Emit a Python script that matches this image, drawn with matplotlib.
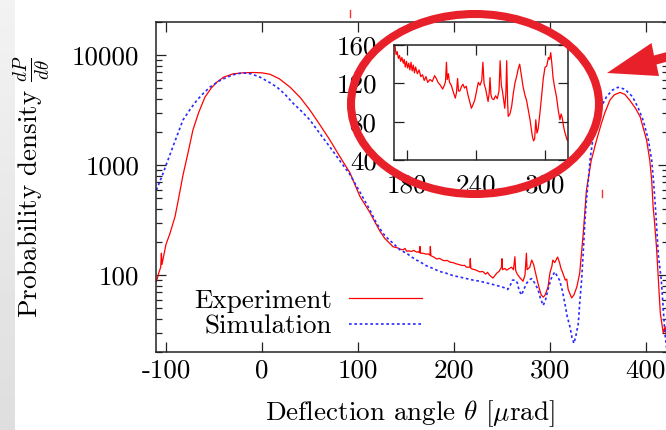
import matplotlib
matplotlib.use('Agg')
import matplotlib.pyplot as plt
import matplotlib.patches as mpatches
import matplotlib.transforms as mtransforms
from matplotlib.lines import Line2D
from matplotlib.ticker import FixedLocator, NullFormatter
import numpy as np

# main curve, experiment (theta in urad, dP/dtheta)
exp_x = [-110, -107.5, -105.5, -104.8, -104.2, -100, -95.8, -90.6, -87.2, -82.3, -77, -71.9, -66,
         -59.4, -53, -46.9, -40, -30.2, -20, -9.4, 0, 8.3, 18, 29.2, 40, 50, 60, 70.8, 81, 91.7,
         102, 112.5, 118, 123, 128, 133, 136.5, 140, 142, 144, 147, 149, 150.7, 153, 156, 158,
         161, 163, 164, 164.6, 165.2, 168, 171, 173, 175, 175.4, 176, 179, 182, 185, 188, 190,
         193, 196, 199, 202, 206, 209, 211, 213, 216.5, 217, 217.6, 220, 222, 225, 227, 230, 233,
         235, 237, 240.6, 243, 245, 247, 249.5, 250, 250.6, 253, 255, 257, 260, 262, 263.5, 264.3,
         266, 269, 272, 274, 275.5, 276.2, 279, 281, 283, 286, 289, 291, 293, 295, 298, 300, 302,
         303, 305, 308, 310, 311.5, 313.5, 316, 317.5, 319, 322.6, 325, 328, 331,
         334.7, 338, 343, 348.6, 353, 357, 362.5, 367, 373, 378, 383, 389, 394, 400.7, 404, 406,
         407.5, 409, 411, 413, 415, 418, 420, 422]
exp_y = [87, 105, 118, 158, 125, 190, 240, 340, 480, 810, 1300, 2090, 3000,
         4150, 5000, 5690, 6300, 6750, 6900, 6950, 6900, 6700, 6100, 5120, 4100, 3160, 2350, 1690, 1200, 850,
         520, 370, 300, 250, 215, 195, 181, 178, 176, 172, 170, 175, 165, 166, 164, 168,
         162, 163, 160, 182, 158, 158, 155, 156, 152, 182, 150, 146, 140, 142, 137, 135,
         136, 131, 130, 127, 124, 122, 123, 118, 118, 141, 115, 113, 112, 109, 107, 108, 102,
         106, 100, 94, 100, 105, 108, 118, 141, 112, 115, 111, 114, 118, 112, 147, 110,
         102, 94, 88, 100, 158, 112, 118, 137, 125, 96, 75, 66, 63, 66, 78, 105, 120,
         137, 130, 146, 130, 115, 104, 90, 92, 74, 62, 66, 78, 104,
         239, 590, 1100, 1690, 2300, 2960, 3900, 4350, 4580, 4400, 3900, 3300, 2750, 1690, 1110, 730,
         420, 300, 180, 90, 45, 30, 34, 25]

# main curve, simulation
sim_x = [-110, -104, -95.8, -89, -82.3, -75, -67.7, -61, -54.2, -45, -36.5, -28, -19.8, -11, -2, 7,
         15.6, 24, 32.3, 41, 50, 60, 70.8, 81, 91.7, 102, 112.5, 119, 126, 131, 136.5, 144, 150.7,
         156, 161, 164.6, 171, 178, 185, 192, 199, 206, 213, 220, 227, 234, 241, 248, 252, 256,
         259, 261, 264, 266, 268, 270.5, 273, 276, 279, 281, 284, 287.6, 290, 293, 295.5, 298,
         301, 305, 307, 310, 313, 315.6, 318, 320.8, 323, 325, 327, 329.5, 331, 333, 335, 336.5,
         338, 340, 341.7, 345, 350, 355, 359, 365, 371, 378, 386, 392, 397, 402.6, 406, 408, 410,
         413, 416, 418, 419.7, 421.5, 423]
sim_y = [593, 800, 1250, 1800, 2570, 3200, 3900, 4500, 5120, 5800, 6300, 6700, 6900, 6750, 6300, 5700,
         5120, 4400, 3660, 3100, 2570, 1950, 1460, 1100, 820, 570, 390, 300, 240, 215, 195, 169, 158,
         146, 137, 132, 122, 115, 108, 104, 99, 96, 93, 90, 88, 85, 82, 79, 77, 74,
         82, 90, 90, 85, 72, 66, 75, 85, 91, 93, 85, 74, 62, 53, 60, 74,
         92, 107, 100, 90, 72, 55, 42, 34, 27, 24, 28, 36, 55, 90, 180, 316,
         480, 730, 1100, 1800, 2800, 3600, 4190, 4800, 5100, 4900, 4190, 3300, 2570, 1690, 1110, 700, 400,
         150, 90, 50, 30, 22, 20]

# inset, experiment zoomed (linear scale)
inset_x = [169.6, 170.5, 171.5, 172.5, 173.5, 174.5, 175.5, 176.8, 177.5, 178.5, 179.5, 180.5, 181.5,
           182.5, 183.5, 184.5, 185.5, 186.5, 187.5, 189, 190.5, 192, 193.5, 195, 196.5, 198, 200,
           202, 204, 205.5, 207, 209, 211, 212.5, 213.5, 214.3, 215, 216, 217, 218.5, 220, 222,
           223, 224, 224.8, 226, 227.5, 228.7, 230, 231.5, 233, 234.5, 236, 237.5, 239, 240.5, 242,
           243.5, 245, 246, 247, 248.4, 250.5, 251.5, 252.2, 253, 254, 255.5, 257, 258.5, 260, 261,
           262, 263, 264, 265, 266, 266.7, 267.5, 268, 269.5, 271, 272.5, 274, 275.5, 276.7, 278,
           279.5, 281, 282.5, 284, 285.5, 287, 288, 289, 290, 291, 292, 293, 294, 295.5, 297,
           298.5, 300, 301.5, 303, 304, 305, 306, 307, 308.5, 310, 311.5, 313, 314, 315, 316, 317,
           318, 319, 320]
inset_y = [159, 150, 153, 146, 149, 143, 147, 141, 145, 137, 143, 136, 141,
           134, 142, 133, 139, 131, 137, 130, 134, 127, 129, 123, 127, 121, 124,
           122, 128, 125, 121, 118, 114, 118, 122, 142, 124, 130, 121, 118, 112, 104.6,
           110, 125, 112, 112, 117, 119, 115, 117, 108, 101, 94, 98, 103, 112, 121,
           118, 123, 142, 120, 114, 101, 110, 126, 108, 104, 103, 107, 104, 112, 143.6,
           118, 112, 103, 94, 110, 143.6, 100, 85.5, 88, 96, 110, 121, 128, 135, 140,
           128, 116, 108, 102, 92, 82, 73, 65, 60, 62, 82, 68, 72, 88, 106,
           125, 136.7, 138, 147, 145, 152, 140, 126, 115, 106, 92, 82, 88, 84, 76, 70,
           66, 61.5, 60]

xticks = [-100, 0, 100, 200, 300, 400]
yticks = [100, 1000, 10000]
inset_xticks = [180, 240, 300]
inset_yticks = [40, 80, 120, 160]

W, H = 666, 430
plt.rcParams['font.family'] = 'cmr10'
plt.rcParams['mathtext.fontset'] = 'cm'
plt.rcParams['axes.unicode_minus'] = False
FS = 19.5
INK = '#222222'

fig = plt.figure(figsize=(W / 100., H / 100.), dpi=100)
fig.patch.set_facecolor('white')


def fbox(l, t, r, b):
    # pixel box -> figure fraction [left, bottom, width, height]
    return [l / W, 1 - b / H, (r - l) / W, (b - t) / H]


ax = fig.add_axes(fbox(156, 22, 668, 352))
ax.plot(exp_x, exp_y, color='#ff0000', lw=0.9, label='Experiment')
ax.plot(sim_x, sim_y, color='#2a2aff', lw=1.2, dashes=(1.6, 1.6), label='Simulation')
ax.set_yscale('log')
ax.set_xlim(-110.4, 423)
ax.set_ylim(20, 20000)
ax.set_xticks(xticks)
ax.set_xticklabels([str(t) for t in xticks])
ax.yaxis.set_major_locator(FixedLocator(yticks))
ax.set_yticklabels([str(t) for t in yticks])
minors = [m * 10 ** e for e in range(1, 5) for m in range(2, 10)]
ax.yaxis.set_minor_locator(FixedLocator(minors))
ax.yaxis.set_minor_formatter(NullFormatter())
ax.tick_params(which='both', direction='in', top=True, right=True, color=INK, width=0.9)
ax.tick_params(which='major', length=7, labelsize=FS)
ax.tick_params(which='minor', length=4)
ax.tick_params(axis='x', pad=5)
ax.tick_params(axis='y', pad=12)
for s in ax.spines.values():
    s.set_color(INK)
    s.set_linewidth(1.1)

ax.set_xlabel(r'Deflection angle $\theta$ [$\mu$rad]', fontsize=FS, va='center')
ax.xaxis.set_label_coords(0.496, -62 / 330.)
ax.set_ylabel(r'Probability density $\frac{dP}{d\theta}$', fontsize=FS, va='center')
ax.yaxis.set_label_coords(-124 / 512., 0.5)

ax.legend(markerfirst=False, frameon=False, loc='center',
          bbox_to_anchor=((193 + 423) / 2. / W, 1 - 313.5 / H), bbox_transform=fig.transFigure,
          handlelength=2.7, handletextpad=0.65, labelspacing=0.05, borderpad=0, fontsize=FS)

# inset
ins = fig.add_axes(fbox(394, 45, 568, 160))
ins.plot(inset_x, inset_y, color='#ff0000', lw=0.9)
ins.set_xlim(168.7, 320)
ins.set_ylim(40, 160)
ins.set_xticks(inset_xticks)
ins.set_yticks(inset_yticks)
ins.tick_params(direction='in', top=True, right=True, length=7, width=0.9, color=INK, labelsize=FS)
ins.tick_params(axis='x', pad=10)
ins.tick_params(axis='y', pad=12)
for s in ins.spines.values():
    s.set_color(INK)
    s.set_linewidth(1.1)

# annotation in pixel coordinates
px = mtransforms.Affine2D().scale(1. / W, -1. / H).translate(0, 1) + fig.transFigure
RED = '#e8202a'
ring = mpatches.Ellipse((475, 104), 248, 180, fill=False, ec=RED, lw=5.8,
                        transform=px, zorder=10)
fig.add_artist(ring)
arrow = mpatches.Polygon([(607, 73), (651.5, 43), (654, 55.5), (700, 43), (702, 52),
                          (656.5, 64.5), (659, 76)], closed=True, fc=RED, ec='none',
                         transform=px, zorder=10)
fig.add_artist(arrow)
for xx, y0, y1 in [(350, 10, 17), (602, 190, 197)]:
    fig.add_artist(Line2D([xx, xx], [y0, y1], color='#ff3030', lw=1.0, transform=px))

# grey page edge on the left
edge = fig.add_axes(fbox(0, 0, 14, 430), zorder=-1)
edge.imshow(np.linspace(0.95, 0.87, 50).reshape(-1, 1), cmap='gray', vmin=0, vmax=1,
            aspect='auto', extent=(0, 1, 0, 1))
edge.axis('off')

fig.savefig('out.png', dpi=100)
